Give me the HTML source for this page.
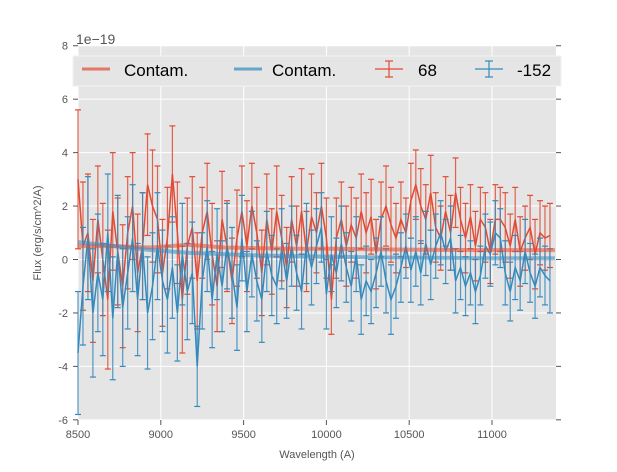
<!DOCTYPE html>
<html><head><meta charset="utf-8"><style>
body{margin:0;background:#fff;font-family:"Liberation Sans",sans-serif}
svg text{font-family:"Liberation Sans",sans-serif}
</style></head><body>
<svg id="c" width="617" height="467" xmlns="http://www.w3.org/2000/svg">
<rect x="78" y="46" width="478" height="374" fill="#e5e5e5"/>
<g id="grid"></g><g id="marks"></g><g id="axes"></g>
<text x="76" y="44" font-size="14" fill="#555">1e−19</text>
<text x="317" y="458" font-size="11" fill="#555" text-anchor="middle">Wavelength (A)</text>
<text transform="translate(41,233) rotate(-90)" font-size="11" fill="#555" text-anchor="middle">Flux (erg/s/cm^2/A)</text>
<g>
<rect x="73" y="56" width="488" height="30" fill="#e5e5e5" stroke="#f2f2f2" stroke-width="1"/>
<g><line x1="82" y1="69" x2="110" y2="69" stroke="#E24A33" stroke-opacity="0.7" stroke-width="3"/><text x="124" y="76" font-size="17">Contam.</text></g>
<g><line x1="234" y1="69" x2="262" y2="69" stroke="#348ABD" stroke-opacity="0.7" stroke-width="3"/><text x="272" y="76" font-size="17">Contam.</text></g>
<g stroke="#E24A33" stroke-width="1.2"><line x1="375" y1="69" x2="403" y2="69"/><line x1="389" y1="61" x2="389" y2="77"/><line x1="385" y1="61" x2="393" y2="61"/><line x1="385" y1="77" x2="393" y2="77"/><text x="418" y="76" font-size="17" stroke="none" fill="#000">68</text></g>
<g stroke="#348ABD" stroke-width="1.2"><line x1="475" y1="69" x2="503" y2="69"/><line x1="489" y1="61" x2="489" y2="77"/><line x1="485" y1="61" x2="493" y2="61"/><line x1="485" y1="77" x2="493" y2="77"/><text x="517" y="76" font-size="17" stroke="none" fill="#000">-152</text></g>
</g>
</svg>
<script>
const xTicks=[8500,9000,9500,10000,10500,11000];
const yTicks=[-6,-4,-2,0,2,4,6,8];
const wave0=8500, waveStep=30;
const redVals=[3.0,0.5,1.0,-0.8,1.5,0.0,-1.5,1.8,0.3,-1.0,1.0,2.0,-0.5,0.5,2.8,2.0,1.5,
-0.5,0.8,3.2,1.0,-1.5,0.5,1.2,-0.8,1.0,1.8,0.2,-1.0,1.5,0.5,-0.8,0.8,1.8,
0.5,2.0,1.0,-0.5,1.5,0.3,1.8,0.8,-0.3,1.5,0.5,1.8,0.3,1.6,1.0,2.0,0.8,
-1.5,0.8,1.5,0.5,1.3,0.8,1.8,1.0,1.6,0.2,1.5,2.0,1.3,0.8,1.5,1.0,2.2,
2.8,2.0,1.5,2.5,1.2,0.8,1.8,1.0,2.5,1.5,0.8,1.6,0.5,1.5,1.2,0.3,1.5,
1.5,1.2,0.5,1.5,0.3,0.8,1.2,0.2,1.0,0.8,0.9];
const redErr=[2.6,2.4,2.2,2.3,2.0,2.1,2.6,2.2,2.0,2.3,2.1,2.0,2.2,2.0,1.9,2.1,2.0,
2.0,1.9,1.8,1.9,2.0,1.8,1.9,1.8,1.7,1.8,1.9,1.7,1.8,1.7,1.6,1.8,1.7,
1.7,1.6,1.7,1.6,1.7,1.6,1.7,1.6,1.5,1.6,1.5,1.6,1.5,1.6,1.5,1.6,1.5,
1.3,1.5,1.4,1.5,1.4,1.5,1.4,1.5,1.4,1.3,1.4,1.5,1.4,1.3,1.4,1.3,1.4,
1.3,1.4,1.3,1.4,1.3,1.2,1.3,1.4,1.3,1.2,1.3,1.2,1.3,1.2,1.3,1.2,1.3,
1.2,1.3,1.2,1.2,1.3,1.2,1.2,1.3,1.2,1.2,1.2];
const blueVals=[-3.5,-1.0,0.8,-2.0,-0.5,-1.5,1.0,-2.2,0.3,-1.8,-0.5,0.8,-1.5,0.5,-2.0,-1.0,0.5,
-0.8,-1.5,-0.3,-2.0,0.2,-1.2,-0.5,-4.0,-0.8,0.5,-1.5,0.2,-1.0,0.5,-0.5,-1.8,
0.8,-1.2,0.2,-0.8,-1.5,0.3,-0.6,-1.0,0.4,-0.8,0.5,-0.5,-1.2,0.6,-0.3,0.5,1.2,
-1.3,0.2,-0.5,0.6,-0.3,-1.0,0.2,-1.5,-0.8,-1.2,-0.5,0.3,-0.8,-1.5,-1.0,-0.3,0.5,
-0.4,0.3,-0.5,0.6,-0.2,0.5,1.0,0.3,0.8,-0.8,-0.3,-1.0,-0.5,-1.2,-0.6,0.5,0.2,
1.0,0.8,-0.5,-1.2,-0.3,-0.8,0.3,-0.5,-1.0,-0.3,-0.6,-0.8];
const blueErr=[2.3,2.2,2.3,2.4,2.2,2.1,2.2,2.3,2.1,2.2,2.1,2.0,2.1,2.0,2.1,2.0,2.0,
1.9,2.0,1.9,1.8,1.9,1.8,1.9,1.5,1.8,1.7,1.8,1.7,1.7,1.6,1.7,1.6,
1.6,1.5,1.6,1.5,1.6,1.5,1.5,1.4,1.5,1.4,1.5,1.4,1.4,1.5,1.4,1.4,1.3,
1.3,1.4,1.3,1.4,1.3,1.3,1.4,1.3,1.3,1.2,1.3,1.3,1.2,1.3,1.2,1.3,1.2,
1.2,1.3,1.2,1.2,1.3,1.2,1.2,1.2,1.2,1.2,1.2,1.1,1.2,1.2,1.1,1.2,1.2,
1.2,1.1,1.2,1.1,1.2,1.1,1.2,1.1,1.2,1.1,1.1,1.2];
const contamRed=[0.5,0.5,0.45,0.55,0.45,0.42,0.4,0.4,0.38,0.37,0.36,0.35,0.35,0.35];
const contamBlue=[0.65,0.5,0.35,0.25,0.2,0.15,0.12,0.1,0.08,0.07,0.06,0.05,0.05,0.05];
const X=w=>78+(w-8500)*0.1656;
const Y=v=>259.5-v*26.72;
const NS="http://www.w3.org/2000/svg";
function mk(p,t,a){const e=document.createElementNS(NS,t);for(const k in a)e.setAttribute(k,a[k]);p.appendChild(e);return e;}
const grid=document.getElementById('grid'),marks=document.getElementById('marks'),axes=document.getElementById('axes');
xTicks.forEach(t=>{const x=X(t);
const g=mk(grid,'line',{x1:x,x2:x,y1:46,y2:420,stroke:'#fff','stroke-width':1});


const tk=mk(axes,'line',{x1:x,x2:x,y1:420,y2:425,stroke:'#555'});


const l=mk(axes,'text',{x:x,y:438,'font-size':11,fill:'#555','text-anchor':'middle'});l.textContent=t;

});
yTicks.forEach(t=>{const y=Y(t);
const g=mk(grid,'line',{x1:78,x2:556,y1:y,y2:y,stroke:'#fff','stroke-width':1});


mk(axes,'line',{x1:73,x2:78,y1:y,y2:y,stroke:'#555'});
mk(axes,'line',{x1:556,x2:561,y1:y,y2:y,stroke:'#555'});
const l=mk(axes,'text',{x:68,y:y+4,'font-size':11,fill:'#555','text-anchor':'end'});l.textContent=t;

});
function series(vals,err,col,name){
const g=mk(marks,'g',{stroke:col,'stroke-width':1.2,fill:'none'});


let d='';
vals.forEach((v,i)=>{const x=X(wave0+i*waveStep),y1=Y(v+err[i]),y2=Y(v-err[i]);
mk(g,'line',{x1:x,x2:x,y1:y1,y2:y2,'stroke-opacity':0.85});
mk(g,'line',{x1:x-3,x2:x+3,y1:y1,y2:y1});mk(g,'line',{x1:x-3,x2:x+3,y1:y2,y2:y2});
d+=(i?'L':'M')+x.toFixed(1)+' '+Y(v).toFixed(1);});
const p=mk(g,'path',{d:d,'stroke-width':1.5});

}
series(redVals,redErr,'#E24A33','series-68');
series(blueVals,blueErr,'#348ABD','series-neg152');
function contam(vals,col,name){const n=vals.length;let d='';
vals.forEach((v,i)=>{d+=(i?'L':'M')+X(8500+i*(2880/(n-1))).toFixed(1)+' '+Y(v).toFixed(1);});
const p=mk(marks,'path',{d:d,stroke:col,'stroke-width':4,'stroke-opacity':0.55,fill:'none'});

}
contam(contamRed,'#E24A33','contam-red-line');
contam(contamBlue,'#348ABD','contam-blue-line');
</script>
</body></html>
